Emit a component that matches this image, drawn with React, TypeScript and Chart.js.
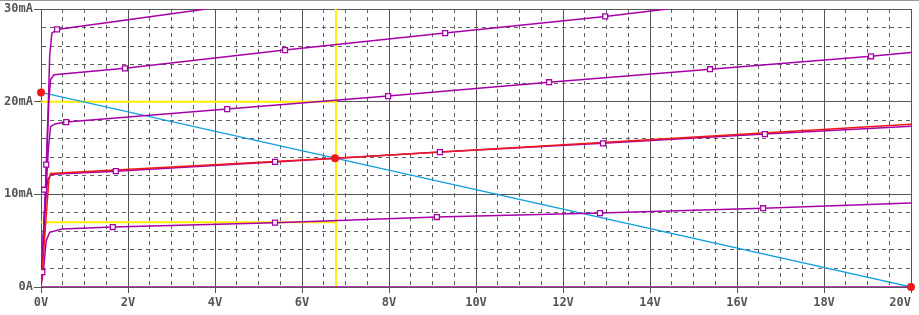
import React, { useEffect, useRef } from "react";
import { Chart, registerables } from "chart.js";

Chart.register(...registerables);

// Drain voltage (V) vs drain current (mA) output curves
const curve1: number[][] = [[0, 0], [0.1, 10], [0.17, 20], [0.2, 25], [0.25, 27.4], [0.37, 27.8], [3.8, 30]];
const curve2: number[][] = [[0, 0], [0.1, 10], [0.18, 20], [0.22, 22.4], [0.3, 22.9], [1.93, 23.6], [5.61, 25.57], [9.29, 27.4], [12.97, 29.2], [14.4, 30]];
const curve3: number[][] = [[0, 0], [0.1, 9], [0.17, 15], [0.22, 17.3], [0.32, 17.6], [0.58, 17.8], [4.28, 19.2], [7.98, 20.6], [11.68, 22.1], [15.38, 23.5], [19.08, 24.9], [20, 25.3]];
const curve4: number[][] = [[0, 0], [0.08, 8], [0.15, 11.5], [0.22, 12.1], [0.4, 12.2], [1.72, 12.5], [5.38, 13.5], [9.17, 14.56], [12.92, 15.5], [16.64, 16.5], [20, 17.35]];
const curve5: number[][] = [[0, 0], [0.06, 2], [0.12, 5], [0.2, 5.9], [0.48, 6.26], [1.65, 6.47], [5.38, 6.94], [9.1, 7.55], [12.85, 7.98], [16.6, 8.5], [20, 9.06]];
const curve0: number[][] = [[0, 0], [20, 0]];
const redCurve: number[][] = [[0, 0], [0.18, 11.5], [0.22, 12.25], [6.76, 13.9], [20, 17.55]];
const loadLine: number[][] = [[0, 21], [20, 0]];
const yellowLow: number[][] = [[0, 7], [6.78, 7]];
const yellowHigh: number[][] = [[0, 20], [6.78, 20]];
const yellowVert: number[][] = [[6.78, 0], [6.78, 30]];
const markers: number[][] = [
  [0.37, 27.8],
  [1.93, 23.6], [5.61, 25.57], [9.29, 27.4], [12.97, 29.2],
  [0.58, 17.8], [4.28, 19.2], [7.98, 20.6], [11.68, 22.1], [15.38, 23.5], [19.08, 24.9],
  [1.72, 12.5], [5.38, 13.5], [9.17, 14.56], [12.92, 15.5], [16.64, 16.5],
  [1.65, 6.47], [5.38, 6.94], [9.1, 7.55], [12.85, 7.98], [16.6, 8.5],
  [0.03, 1.6], [0.07, 10.5], [0.12, 13.2],
];
const redDots: number[][] = [[0, 21], [6.76, 13.9], [20, 0]];

const X_MIN = 0, X_MAX = 20, X_MINOR = 0.5, X_MAJOR = 2;
const Y_MIN = 0, Y_MAX = 30, Y_MINOR = 2, Y_MAJOR = 10;

const PURPLE = "#a800a8";
const BLUE = "#10a0e0";
const RED = "#f01818";
const YELLOW = "#ffee00";
const GRID = "#555555";
const LABEL = "#555555";

const xy = (a: number[][]) => a.map(([x, y]) => ({ x, y }));
const isMult = (v: number, m: number) => Math.abs(v / m - Math.round(v / m)) < 1e-6;

const line = (data: number[][], color: string, width: number) => ({
  data: xy(data),
  showLine: true,
  borderColor: color,
  backgroundColor: color,
  borderWidth: width,
  pointRadius: 0,
  pointHoverRadius: 0,
  tension: 0,
});

const topLine = {
  id: "topLine",
  afterDraw(chart: any) {
    const ctx = chart.ctx;
    ctx.save();
    ctx.strokeStyle = "#9a9a9a";
    ctx.lineWidth = 1;
    ctx.beginPath();
    ctx.moveTo(0, 0.5);
    ctx.lineTo(chart.width, 0.5);
    ctx.stroke();
    ctx.restore();
  },
};

export default function App() {
  const ref = useRef<HTMLCanvasElement | null>(null);
  useEffect(() => {
    if (!ref.current) return;
    const font = { family: "'DejaVu Sans Mono', monospace", size: 12, weight: "bold" as const };
    const chart = new Chart(ref.current, {
      type: "scatter",
      data: {
        datasets: [
          { data: xy(redDots), pointRadius: 4, pointHoverRadius: 4, backgroundColor: RED, borderColor: RED, borderWidth: 0, showLine: false, clip: false } as any,
          { data: xy(markers), pointStyle: "rect", pointRadius: 3.5, pointHoverRadius: 3.5, backgroundColor: "#ffffff", borderColor: PURPLE, borderWidth: 1.3, showLine: false },
          line(redCurve, RED, 1.5),
          line(curve1, PURPLE, 1.5),
          line(curve2, PURPLE, 1.5),
          line(curve3, PURPLE, 1.5),
          line(curve4, PURPLE, 1.5),
          line(curve5, PURPLE, 1.5),
          line(curve0, PURPLE, 1.5),
          line(loadLine, BLUE, 1.3),
          line(yellowLow, YELLOW, 2),
          line(yellowHigh, YELLOW, 2),
          line(yellowVert, YELLOW, 2),
        ] as any,
      },
      options: {
        responsive: false,
        animation: false,
        events: [],
        layout: { padding: { top: 9, right: 8, left: 0, bottom: 0 } },
        plugins: { legend: { display: false }, tooltip: { enabled: false } },
        scales: {
          x: {
            type: "linear",
            min: X_MIN,
            max: X_MAX,
            afterFit: (s: any) => { s.height = 28; s.paddingLeft = 0; s.paddingRight = 0; },
            ticks: {
              stepSize: X_MINOR,
              autoSkip: false,
              maxRotation: 0,
              minRotation: 0,
              padding: 3,
              color: LABEL,
              font,
              callback: (v: any) => {
                const n = Number(v);
                if (!isMult(n, X_MAJOR)) return "";
                return n === X_MAX ? `${n}V\u00a0\u00a0\u00a0` : `${n}V`;
              },
            },
            grid: {
              color: (c: any) => (c.tick && isMult(c.tick.value, X_MAJOR) ? GRID : "#606060"),
              lineWidth: 1,
              drawTicks: true,
              tickLength: 6,
              tickColor: (c: any) => (c.tick && isMult(c.tick.value, X_MAJOR) ? GRID : "rgba(0,0,0,0)"),
            },
            border: {
              display: true,
              color: GRID,
              dash: (c: any) => (c.tick && !isMult(c.tick.value, X_MAJOR) ? [4, 4] : []),
            },
          } as any,
          y: {
            type: "linear",
            min: Y_MIN,
            max: Y_MAX,
            afterFit: (s: any) => { s.width = 41; s.paddingTop = 0; s.paddingBottom = 0; },
            ticks: {
              stepSize: Y_MINOR,
              autoSkip: false,
              padding: 1,
              color: LABEL,
              font,
              callback: (v: any) => {
                const n = Number(v);
                if (!isMult(n, Y_MAJOR)) return "";
                return n === 0 ? "0A" : `${n}mA`;
              },
            },
            grid: {
              color: (c: any) => (c.tick && isMult(c.tick.value, Y_MAJOR) ? GRID : "#606060"),
              lineWidth: 1,
              drawTicks: true,
              tickLength: 7,
              tickColor: (c: any) => (c.tick && isMult(c.tick.value, Y_MAJOR) ? GRID : "rgba(0,0,0,0)"),
            },
            border: {
              display: true,
              color: GRID,
              dash: (c: any) => (c.tick && !isMult(c.tick.value, Y_MAJOR) ? [4, 4] : []),
            },
          } as any,
        },
      },
      plugins: [topLine],
    });
    return () => chart.destroy();
  }, []);
  return (
    <div style={{ position: "absolute", left: 0, top: 0, width: 919, height: 315, background: "#ffffff" }}>
      <canvas ref={ref} width={919} height={315} style={{ display: "block" }} />
    </div>
  );
}
